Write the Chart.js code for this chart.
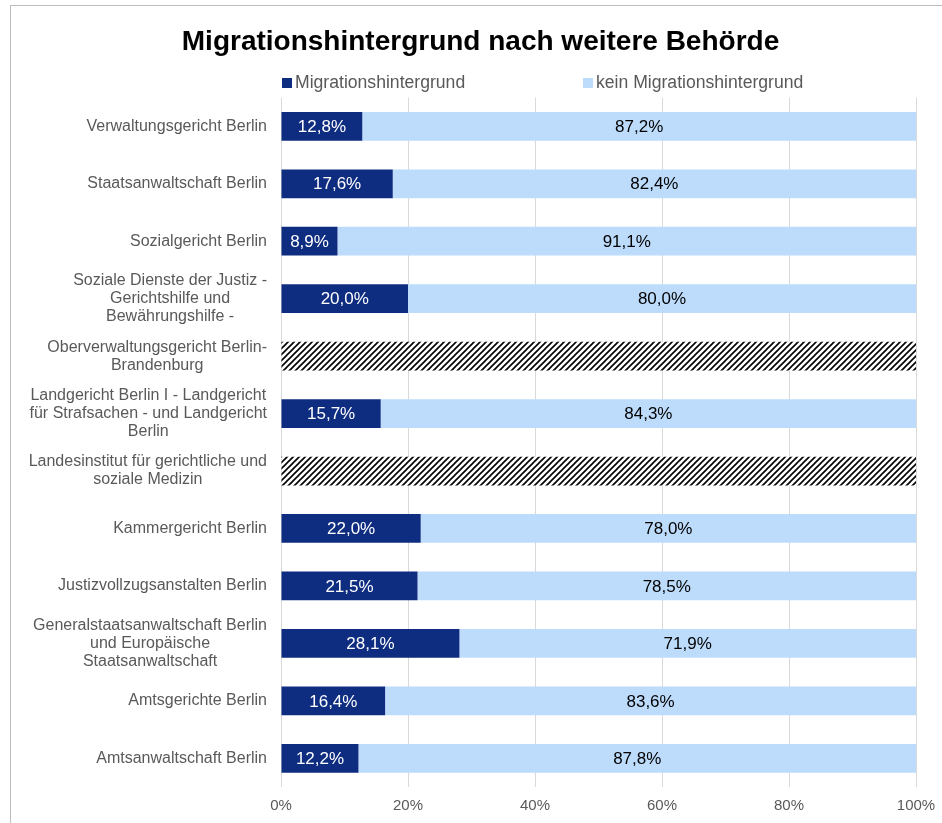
<!DOCTYPE html>
<html>
<head>
<meta charset="utf-8">
<script src="https://cdn.jsdelivr.net/npm/chart.js@4"></script>
<style>
  html, body { margin: 0; padding: 0; background: #fff; overflow: hidden; }
  #frame { position: absolute; left: 10px; top: 5px; width: 1000px; height: 900px; border: 1.5px solid #bcbcbc; }
  #wrap { position: absolute; left: 0; top: 1px; width: 931px; height: 817px; }
</style>
</head>
<body>
<div id="frame"><div id="wrap"><canvas id="chart"></canvas></div></div>
<script>
// --- Data ---
const categories = [
    'Verwaltungsgericht Berlin',
    'Staatsanwaltschaft Berlin',
    'Sozialgericht Berlin',
    ['Soziale Dienste der Justiz -', 'Gerichtshilfe und', 'Bewährungshilfe -'],
    ['Oberverwaltungsgericht Berlin-', 'Brandenburg'],
    ['Landgericht Berlin I - Landgericht', 'für Strafsachen - und Landgericht', 'Berlin'],
    ['Landesinstitut für gerichtliche und', 'soziale Medizin'],
    'Kammergericht Berlin',
    'Justizvollzugsanstalten Berlin',
    ['Generalstaatsanwaltschaft Berlin', 'und Europäische', 'Staatsanwaltschaft'],
    'Amtsgerichte Berlin',
    'Amtsanwaltschaft Berlin'
];
const migration = [12.8, 17.6, 8.9, 20.0, null, 15.7, null, 22.0, 21.5, 28.1, 16.4, 12.2];
const keinMigration = [87.2, 82.4, 91.1, 80.0, null, 84.3, null, 78.0, 78.5, 71.9, 83.6, 87.8];
// rows without published values (drawn hatched)
const keineAngabe = [null, null, null, null, 100, null, 100, null, null, null, null, null];
const xTicks = [0, 20, 40, 60, 80, 100];

const FONT = '"Liberation Sans", Arial, sans-serif';
const DARK = '#0f2d80';
const LIGHT = '#bddcfc';

// hatch pattern for missing rows
function makeHatch() {
    const c = document.createElement('canvas');
    c.width = 6; c.height = 6;
    const g = c.getContext('2d');
    g.fillStyle = '#fff';
    g.fillRect(0, 0, 6, 6);
    g.strokeStyle = '#000';
    g.lineWidth = 1.6;
    g.beginPath();
    g.moveTo(-1, 7); g.lineTo(7, -1);
    g.moveTo(-4, 4); g.lineTo(4, -4);
    g.moveTo(2, 10); g.lineTo(10, 2);
    g.stroke();
    return g.createPattern(c, 'repeat');
}

const fmt = v => v.toFixed(1).replace('.', ',') + '%';

// y labels: centred lines, block right-aligned against the plot
const yLabelPlugin = {
    id: 'yLabels',
    afterDraw(chart) {
        const ctx = chart.ctx;
        const y = chart.scales.y;
        const right = chart.chartArea.left - 14;
        ctx.save();
        ctx.font = '16px ' + FONT;
        ctx.fillStyle = '#595959';
        ctx.textAlign = 'center';
        ctx.textBaseline = 'middle';
        categories.forEach((lab, i) => {
            const lines = Array.isArray(lab) ? lab : [lab];
            const w = Math.max(...lines.map(l => ctx.measureText(l).width));
            const cx = right - w / 2;
            const cy = y.getPixelForTick(i);
            const lh = 18;
            lines.forEach((l, j) => {
                ctx.fillText(l, cx, cy + (j - (lines.length - 1) / 2) * lh);
            });
        });
        ctx.restore();
    }
};

// values inside the bars
const valuePlugin = {
    id: 'values',
    afterDatasetsDraw(chart) {
        const ctx = chart.ctx;
        ctx.save();
        ctx.font = '17px ' + FONT;
        ctx.textAlign = 'center';
        ctx.textBaseline = 'middle';
        [0, 1].forEach(di => {
            const meta = chart.getDatasetMeta(di);
            const data = chart.data.datasets[di].data;
            meta.data.forEach((bar, i) => {
                if (data[i] == null) return;
                const p = bar.getProps(['x', 'y', 'base'], true);
                ctx.fillStyle = di === 0 ? '#fff' : '#000';
                ctx.fillText(fmt(data[i]), (p.x + p.base) / 2, p.y + 1);
            });
        });
        ctx.restore();
    }
};

// legend drawn by hand (only the two real series)
const legendPlugin = {
    id: 'legendManual',
    afterDraw(chart) {
        const ctx = chart.ctx;
        const items = [
            { text: chart.data.datasets[0].label, color: DARK, x: 271 },
            { text: chart.data.datasets[1].label, color: LIGHT, x: 572 }
        ];
        ctx.save();
        ctx.font = '17.6px ' + FONT;
        ctx.textBaseline = 'middle';
        ctx.textAlign = 'left';
        items.forEach(it => {
            ctx.fillStyle = it.color;
            ctx.fillRect(it.x, 71, 10, 10);
            ctx.fillStyle = '#595959';
            ctx.fillText(it.text, it.x + 13, 76);
        });
        ctx.restore();
    }
};

new Chart(document.getElementById('chart'), {
    type: 'bar',
    data: {
        labels: categories,
        datasets: [
            { label: 'Migrationshintergrund', data: migration, backgroundColor: DARK },
            { label: 'kein Migrationshintergrund', data: keinMigration, backgroundColor: LIGHT },
            { label: 'keine Angabe', data: keineAngabe, backgroundColor: makeHatch() }
        ]
    },
    options: {
        indexAxis: 'y',
        responsive: true,
        maintainAspectRatio: false,
        animation: false,
        categoryPercentage: 0.5,
        barPercentage: 1,
        layout: { padding: { left: 34, right: 26, top: 0, bottom: 0 } },
        plugins: {
            legend: { display: false },
            tooltip: { enabled: false },
            title: {
                display: true,
                text: 'Migrationshintergrund nach weitere Behörde',
                color: '#000',
                font: { family: FONT, size: 28, weight: 'bold' },
                padding: { top: 18, bottom: 39 }
            }
        },
        scales: {
            x: {
                stacked: true,
                min: 0, max: 100,
                afterBuildTicks: s => { s.ticks = xTicks.map(v => ({ value: v })); },
                grid: { color: '#d9d9d9', lineWidth: 1, drawTicks: false },
                border: { display: false },
                ticks: {
                    color: '#595959',
                    font: { family: FONT, size: 15 },
                    padding: 10,
                    callback: v => v + '%'
                },
                afterFit: s => { s.height = 37; s.paddingLeft = 0; s.paddingRight = 0; }
            },
            y: {
                stacked: true,
                grid: { display: false },
                border: { display: false },
                ticks: { display: false },
                afterFit: s => { s.width = 236; }
            }
        }
    },
    plugins: [yLabelPlugin, valuePlugin, legendPlugin]
});
</script>
</body>
</html>
